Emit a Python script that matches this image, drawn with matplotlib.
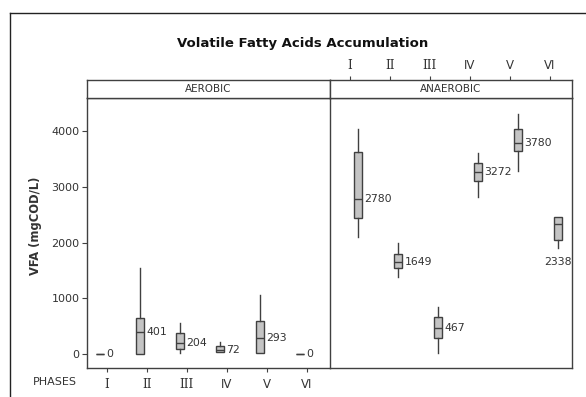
import matplotlib
matplotlib.use('Agg')
import matplotlib.pyplot as plt
from matplotlib.lines import Line2D

phases = ['I', 'II', 'III', 'IV', 'V', 'VI']
conditions = ['AEROBIC', 'ANAEROBIC']

# aerobic boxes (mgCOD/L)
aer_lo = [0, 0, 10, 36, 20, 0]
aer_q1 = [0, 0, 90, 36, 23, 0]
aer_med = [0, 401, 204, 72, 293, 0]
aer_q3 = [0, 650, 376, 143, 592, 0]
aer_hi = [0, 1543, 562, 215, 1058, 0]

# anaerobic boxes (mgCOD/L)
ana_lo = [2093, 1375, 12, 2810, 3288, 1896]
ana_q1 = [2433, 1549, 293, 3109, 3641, 2045]
ana_med = [2780, 1649, 467, 3272, 3780, 2338]
ana_q3 = [3629, 1788, 664, 3432, 4030, 2463]
ana_hi = [4030, 1985, 849, 3611, 4305, 2463]

yticks = [0, 1000, 2000, 3000, 4000]

W, H = 586, 397
def fx(px):
    return px / W
def fy(py):
    return 1 - py / H

edge = '#404040'
txt = '#333333'
fill = '#c4c4c4'

fig = plt.figure(figsize=(W / 100, H / 100), dpi=100)

axL = fig.add_axes([fx(87), fy(368), 243 / W, 270 / H])
axR = fig.add_axes([fx(330), fy(368), 242 / W, 270 / H], sharey=axL)
hL = fig.add_axes([fx(87), fy(98), 243 / W, 18 / H])
hR = fig.add_axes([fx(330), fy(98), 242 / W, 18 / H])

pos = list(range(1, len(phases) + 1))

def stats(lo, q1, med, q3, hi):
    return [dict(whislo=a, q1=b, med=c, q3=d, whishi=e, fliers=[])
            for a, b, c, d, e in zip(lo, q1, med, q3, hi)]

box_kw = dict(widths=0.22, patch_artist=True, showcaps=False,
              boxprops=dict(facecolor=fill, edgecolor=edge, linewidth=1.0),
              medianprops=dict(color=edge, linewidth=1.0),
              whiskerprops=dict(color=edge, linewidth=1.0))

axL.bxp(stats(aer_lo, aer_q1, aer_med, aer_q3, aer_hi), positions=pos, **box_kw)
axR.bxp(stats(ana_lo, ana_q1, ana_med, ana_q3, ana_hi), positions=pos, **box_kw)

for i, m in enumerate(aer_med):
    axL.annotate(str(m), (pos[i] + 0.11, m), xytext=(1.5, 0), textcoords='offset points',
                 ha='left', va='center', fontsize=7.8, color=txt)
for i, m in enumerate(ana_med):
    if i == 5:
        axR.annotate(str(m), (pos[i], ana_lo[i]), xytext=(0, -10), textcoords='offset points',
                     ha='center', va='center', fontsize=7.8, color=txt)
    else:
        axR.annotate(str(m), (pos[i] + 0.11, m), xytext=(1.5, 0), textcoords='offset points',
                     ha='left', va='center', fontsize=7.8, color=txt)

axL.set_xlim(0.675, 6.75)
axR.set_xlim(0.3, 6.35)
hR.set_xlim(0.3, 6.35)
axL.set_ylim(-251, 4592)

axL.set_yticks(yticks)
axL.set_yticklabels([str(v) for v in yticks])
axL.tick_params(axis='y', length=3.5, width=0.8, color=edge, labelsize=8, labelcolor=txt, pad=2)
axL.set_xticks([p + 0.17 for p in pos])
axL.set_xticklabels(phases)
axL.tick_params(axis='x', length=3, width=0.8, color=edge, labelsize=8.5, labelcolor=txt, pad=4)
axR.tick_params(left=False, labelleft=False, bottom=False, labelbottom=False)

hL.set_xticks([])
hL.set_yticks([])
hR.set_yticks([])
hR.set_xticks([p - 0.21 for p in pos])
hR.set_xticklabels(phases)
hR.xaxis.tick_top()
hR.tick_params(axis='x', length=3, width=0.8, color=edge, labelsize=8.5, labelcolor=txt, pad=3)

for ax in (axL, hR):
    for k, lab in enumerate(ax.get_xticklabels()):
        lab.set_fontfamily('DejaVu Serif' if k < 3 else 'DejaVu Sans')

for ax in (axL, axR, hL, hR):
    for s in ax.spines.values():
        s.set_color(edge)
        s.set_linewidth(1.0)
axL.spines['right'].set_visible(False)

hL.text(0.5, 0.5, conditions[0], transform=hL.transAxes, ha='center', va='center',
        fontsize=7.5, color=txt)
hR.text(0.5, 0.5, conditions[1], transform=hR.transAxes, ha='center', va='center',
        fontsize=7.5, color=txt)

fig.text(fx(303), fy(44), 'Volatile Fatty Acids Accumulation', ha='center', va='center',
         fontsize=9.5, fontweight='bold', color='#111111')
fig.text(fx(35), fy(226), 'VFA (mgCOD/L)', rotation=90, ha='center', va='center',
         fontsize=8.3, fontweight='bold', color=txt)
fig.text(fx(33), fy(382), 'PHASES', ha='left', va='center', fontsize=8, color=txt)

# outer frame
fig.add_artist(Line2D([fx(10), fx(10)], [0, fy(13)], color='#222222', lw=1.0))
fig.add_artist(Line2D([fx(10), 1], [fy(13), fy(13)], color='#222222', lw=1.0))

fig.savefig('out.png', dpi=100)
